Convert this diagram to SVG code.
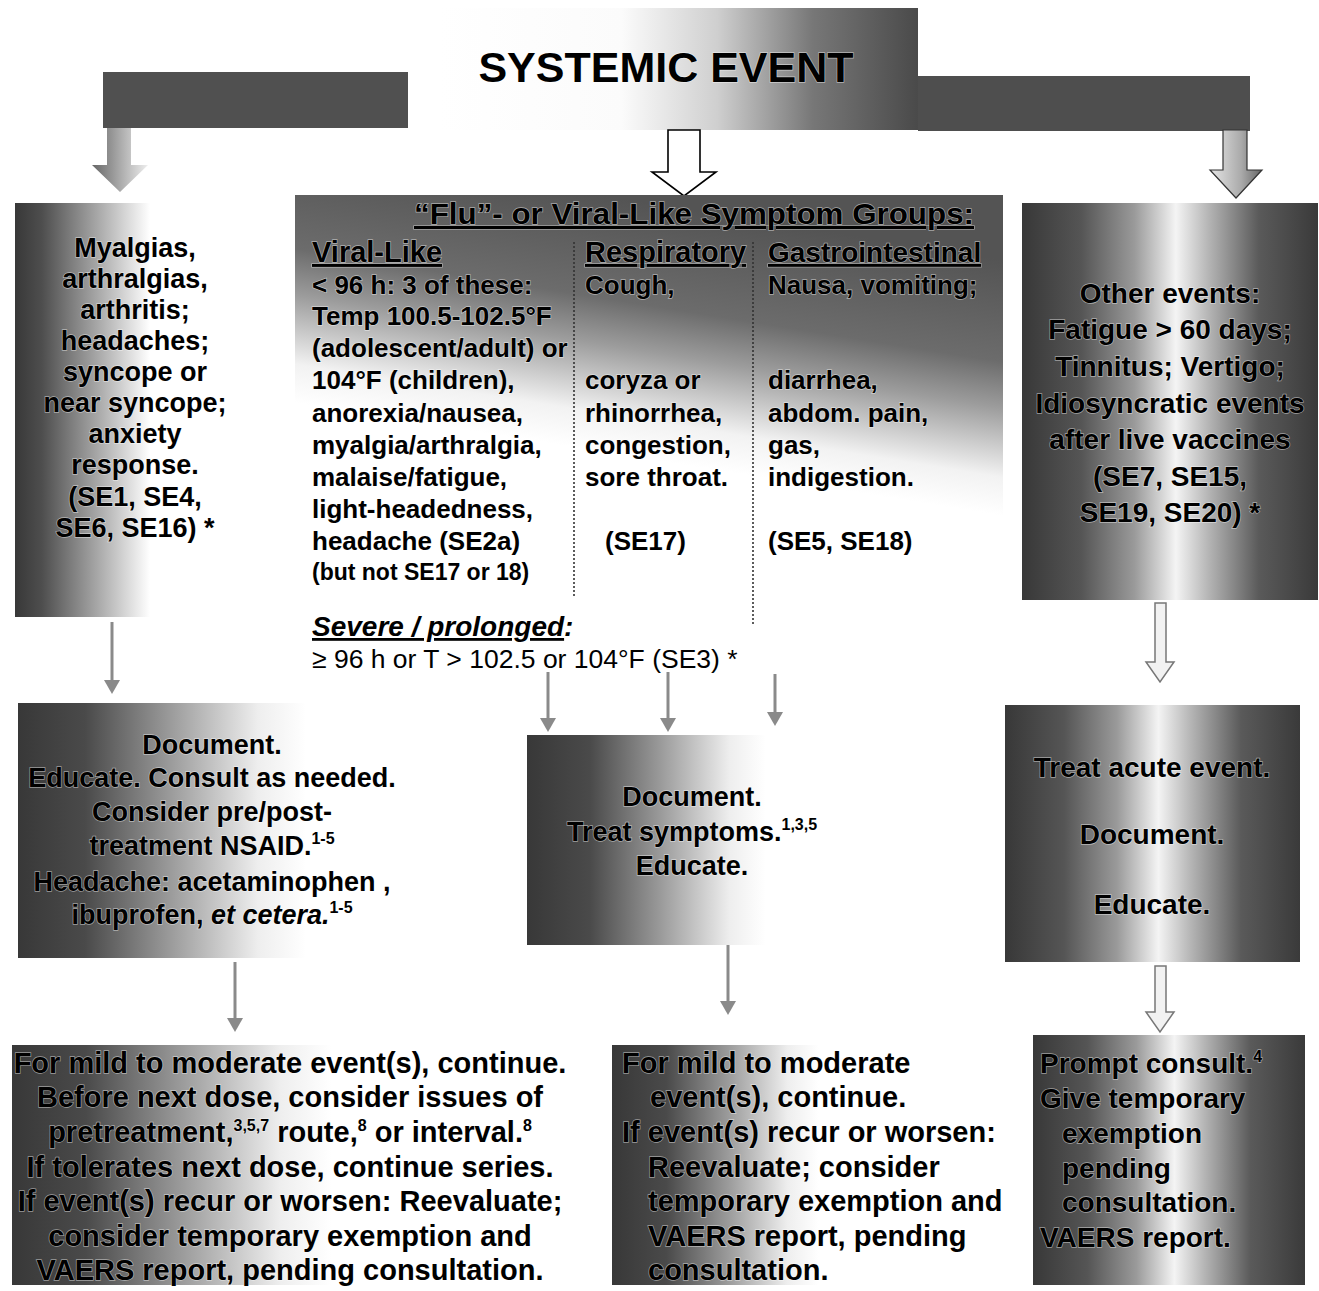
<svg xmlns="http://www.w3.org/2000/svg" width="1319" height="1291" viewBox="0 0 1319 1291">
<defs>
<style>
text{font-family:"Liberation Sans",Arial,sans-serif;font-weight:bold;fill:#000;stroke:#fff;stroke-width:1.3;stroke-opacity:0.5;paint-order:stroke;}
.t43{font-size:43px;}
.t30{font-size:30px;}
.t29{font-size:29px;}
.t28{font-size:28px;}
.t27{font-size:27px;}
.t26{font-size:26px;}
.t23{font-size:23px;}
.reg{font-weight:normal;}
.mid{text-anchor:middle;}
.u{text-decoration:underline;}
.sup{font-size:16px;}
.dots{stroke:#333;stroke-width:1.6;stroke-dasharray:2 2;fill:none;}
.thin{stroke:#8a8a8a;stroke-width:3;fill:none;}
.thinhead{fill:#8a8a8a;}
.dbl{fill:#f2f2f2;stroke:#777;stroke-width:1.5;}
</style>
<linearGradient id="gTitle" x1="0" y1="0" x2="1" y2="0">
<stop offset="0" stop-color="#fff"/><stop offset="0.38" stop-color="#fbfbfb"/><stop offset="0.58" stop-color="#cfcfcf"/><stop offset="0.78" stop-color="#777"/><stop offset="1" stop-color="#4a4a4a"/>
</linearGradient>
<linearGradient id="gL1" x1="0" y1="0" x2="1" y2="0">
<stop offset="0" stop-color="#383838"/><stop offset="0.1" stop-color="#4e4e4e"/><stop offset="0.3" stop-color="#a5a5a5"/><stop offset="0.5" stop-color="#fff"/><stop offset="1" stop-color="#fff"/>
</linearGradient>
<linearGradient id="gL2" x1="0" y1="0" x2="1" y2="0">
<stop offset="0" stop-color="#383838"/><stop offset="0.14" stop-color="#4a4a4a"/><stop offset="0.32" stop-color="#9c9c9c"/><stop offset="0.5" stop-color="#eee"/><stop offset="0.6" stop-color="#fff"/><stop offset="1" stop-color="#fff"/>
</linearGradient>
<linearGradient id="gL3" x1="0" y1="0" x2="1" y2="0">
<stop offset="0" stop-color="#383838"/><stop offset="0.13" stop-color="#4a4a4a"/><stop offset="0.3" stop-color="#9c9c9c"/><stop offset="0.47" stop-color="#eee"/><stop offset="0.56" stop-color="#fff"/><stop offset="1" stop-color="#fff"/>
</linearGradient>
<linearGradient id="gM2" x1="0" y1="0" x2="1" y2="0">
<stop offset="0" stop-color="#383838"/><stop offset="0.14" stop-color="#4a4a4a"/><stop offset="0.3" stop-color="#9c9c9c"/><stop offset="0.45" stop-color="#eee"/><stop offset="0.53" stop-color="#fff"/><stop offset="1" stop-color="#fff"/>
</linearGradient>
<linearGradient id="gR" x1="0" y1="0" x2="1" y2="0">
<stop offset="0" stop-color="#383838"/><stop offset="0.2" stop-color="#555"/><stop offset="0.38" stop-color="#9a9a9a"/><stop offset="0.52" stop-color="#f4f4f4"/><stop offset="0.63" stop-color="#b5b5b5"/><stop offset="0.8" stop-color="#5a5a5a"/><stop offset="1" stop-color="#3a3a3a"/>
</linearGradient>
<linearGradient id="gMid" gradientUnits="userSpaceOnUse" x1="560" y1="445" x2="600" y2="195">
<stop offset="0" stop-color="#fff"/><stop offset="0.15" stop-color="#f2f2f2"/><stop offset="0.42" stop-color="#9c9c9c"/><stop offset="0.6" stop-color="#6c6c6c"/><stop offset="1" stop-color="#545454"/>
</linearGradient>
<linearGradient id="gArrL" x1="0" y1="0" x2="1" y2="0">
<stop offset="0" stop-color="#666"/><stop offset="0.5" stop-color="#aaa"/><stop offset="1" stop-color="#eee"/>
</linearGradient>
<linearGradient id="gArrR" x1="0" y1="0" x2="1" y2="0">
<stop offset="0" stop-color="#e6e6e6"/><stop offset="0.6" stop-color="#aaa"/><stop offset="1" stop-color="#666"/>
</linearGradient>
</defs>
<rect width="1319" height="1291" fill="#fff"/>

<!-- Title and bars -->
<g id="title">
<rect x="440" y="8" width="478" height="122" fill="url(#gTitle)"/>
<rect x="918" y="76" width="332" height="55" fill="#4e4e4e"/>
<rect x="103" y="72" width="305" height="56" fill="#505050"/>
<text class="t43 mid" x="666" y="82">SYSTEMIC EVENT</text>
</g>

<!-- Connectors -->
<g id="connectors">
<path d="M107,128 H131 V165 H148 L120,192 L92,165 H107 Z" fill="url(#gArrL)"/>
<path d="M668,130 H700 V172 H716 L684,196 L652,172 H668 Z" fill="#fff" stroke="#000" stroke-width="1.6"/>
<path d="M1223,130 H1247 V170 H1262 L1236,198 L1210,170 H1223 Z" fill="url(#gArrR)" stroke="#333" stroke-width="1.2"/>

<line class="thin" x1="112" y1="622" x2="112" y2="682"/>
<path class="thinhead" d="M104,680 L120,680 L112,694 Z"/>
<line class="thin" x1="548" y1="672" x2="548" y2="720"/>
<path class="thinhead" d="M540,718 L556,718 L548,732 Z"/>
<line class="thin" x1="668" y1="672" x2="668" y2="720"/>
<path class="thinhead" d="M660,718 L676,718 L668,732 Z"/>
<line class="thin" x1="775" y1="674" x2="775" y2="714"/>
<path class="thinhead" d="M767,712 L783,712 L775,726 Z"/>
<path class="dbl" d="M1155,603 H1166 V662 H1174 L1160,682 L1146,662 H1155 Z"/>

<line class="thin" x1="235" y1="962" x2="235" y2="1020"/>
<path class="thinhead" d="M227,1018 L243,1018 L235,1032 Z"/>
<line class="thin" x1="728" y1="940" x2="728" y2="1003"/>
<path class="thinhead" d="M720,1001 L736,1001 L728,1015 Z"/>
<path class="dbl" d="M1155,966 H1166 V1012 H1174 L1160,1032 L1146,1012 H1155 Z"/>
</g>

<!-- Row 1 -->
<g id="n-left1">
<rect x="15" y="203" width="270" height="414" fill="url(#gL1)"/>
<text class="t27 mid" x="135"><tspan x="135" y="257">Myalgias,</tspan><tspan x="135" y="288">arthralgias,</tspan><tspan x="135" y="319">arthritis;</tspan><tspan x="135" y="350">headaches;</tspan><tspan x="135" y="381">syncope or</tspan><tspan x="135" y="412">near syncope;</tspan><tspan x="135" y="443">anxiety</tspan><tspan x="135" y="474">response.</tspan><tspan x="135" y="506">(SE1, SE4,</tspan><tspan x="135" y="537">SE6, SE16) *</tspan></text>
</g>

<g id="n-flu">
<rect x="295" y="195" width="708" height="410" fill="url(#gMid)"/>
<text class="t30 mid u" x="694" y="224" textLength="560" lengthAdjust="spacingAndGlyphs">“Flu”- or Viral-Like Symptom Groups:</text>
<text class="t29 u" x="312" y="262">Viral-Like</text>
<text class="t29 u" x="585" y="262">Respiratory</text>
<text class="t28 u" x="768" y="262">Gastrointestinal</text>
<line class="dots" x1="574" y1="242" x2="574" y2="598"/>
<line class="dots" x1="753" y1="242" x2="753" y2="624"/>
<text class="t26"><tspan x="312" y="294">&lt; 96 h: 3 of these:</tspan><tspan x="312" y="325">Temp 100.5-102.5°F</tspan><tspan x="312" y="357">(adolescent/adult) or</tspan><tspan x="312" y="389">104°F (children),</tspan><tspan x="312" y="422">anorexia/nausea,</tspan><tspan x="312" y="454">myalgia/arthralgia,</tspan><tspan x="312" y="486">malaise/fatigue,</tspan><tspan x="312" y="518">light-headedness,</tspan><tspan x="312" y="550">headache (SE2a)</tspan></text>
<text class="t23" x="312" y="580">(but not SE17 or 18)</text>
<text class="t26"><tspan x="585" y="294">Cough,</tspan><tspan x="585" y="389">coryza or</tspan><tspan x="585" y="422">rhinorrhea,</tspan><tspan x="585" y="454">congestion,</tspan><tspan x="585" y="486">sore throat.</tspan><tspan x="605" y="550">(SE17)</tspan></text>
<text class="t26"><tspan x="768" y="294">Nausa, vomiting;</tspan><tspan x="768" y="389">diarrhea,</tspan><tspan x="768" y="422">abdom. pain,</tspan><tspan x="768" y="454">gas,</tspan><tspan x="768" y="486">indigestion.</tspan><tspan x="768" y="550">(SE5, SE18)</tspan></text>
<text class="t28" x="312" y="636" font-style="italic"><tspan class="u">Severe / prolonged</tspan>:</text>
<text class="reg" font-size="26.5" x="312" y="668">≥ 96 h or T &gt; 102.5 or 104°F (SE3) *</text>
</g>

<g id="n-other">
<rect x="1022" y="203" width="296" height="397" fill="url(#gR)"/>
<text class="t28 mid"><tspan x="1170" y="303">Other events:</tspan><tspan x="1170" y="339">Fatigue &gt; 60 days;</tspan><tspan x="1170" y="376">Tinnitus; Vertigo;</tspan><tspan x="1170" y="413">Idiosyncratic events</tspan><tspan x="1170" y="449">after live vaccines</tspan><tspan x="1170" y="486">(SE7, SE15,</tspan><tspan x="1170" y="522">SE19, SE20) *</tspan></text>
</g>

<!-- Row 2 -->
<g id="n-doc-left">
<rect x="18" y="703" width="480" height="255" fill="url(#gL2)"/>
<text class="t27 mid"><tspan x="212" y="754">Document.</tspan><tspan x="212" y="787">Educate. Consult as needed.</tspan><tspan x="212" y="821">Consider pre/post-</tspan><tspan x="212" y="855">treatment NSAID.<tspan class="sup" dy="-11">1-5</tspan></tspan><tspan x="212" y="891">Headache: acetaminophen ,</tspan><tspan x="212" y="924">ibuprofen, <tspan font-style="italic">et cetera.</tspan><tspan class="sup" dy="-11">1-5</tspan></tspan></text>
</g>

<g id="n-doc-mid">
<rect x="527" y="735" width="450" height="210" fill="url(#gM2)"/>
<text class="t27 mid"><tspan x="692" y="806">Document.</tspan><tspan x="692" y="841">Treat symptoms.<tspan class="sup" dy="-11">1,3,5</tspan></tspan><tspan x="692" y="875">Educate.</tspan></text>
</g>

<g id="n-treat">
<rect x="1005" y="705" width="295" height="257" fill="url(#gR)"/>
<text class="t28 mid"><tspan x="1152" y="777">Treat acute event.</tspan><tspan x="1152" y="844">Document.</tspan><tspan x="1152" y="914">Educate.</tspan></text>
</g>

<!-- Row 3 -->
<g id="n-cont-left">
<rect x="12" y="1045" width="570" height="240" fill="url(#gL3)"/>
<text class="t29 mid"><tspan x="290" y="1073">For mild to moderate event(s), continue.</tspan><tspan x="290" y="1107">Before next dose, consider issues of</tspan><tspan x="290" y="1142">pretreatment,<tspan class="sup" dy="-11">3,5,7</tspan><tspan dy="11"> route,</tspan><tspan class="sup" dy="-11">8</tspan><tspan dy="11"> or interval.</tspan><tspan class="sup" dy="-11">8</tspan></tspan><tspan x="290" y="1177">If tolerates next dose, continue series.</tspan><tspan x="290" y="1211">If event(s) recur or worsen: Reevaluate;</tspan><tspan x="290" y="1246">consider temporary exemption and</tspan><tspan x="290" y="1280">VAERS report, pending consultation.</tspan></text>
</g>

<g id="n-cont-mid">
<rect x="612" y="1045" width="390" height="240" fill="url(#gM2)"/>
<text class="t29"><tspan x="622" y="1073">For mild to moderate</tspan><tspan x="650" y="1107">event(s), continue.</tspan><tspan x="622" y="1142">If event(s) recur or worsen:</tspan><tspan x="648" y="1177">Reevaluate; consider</tspan><tspan x="648" y="1211">temporary exemption and</tspan><tspan x="648" y="1246">VAERS report, pending</tspan><tspan x="648" y="1280">consultation.</tspan></text>
</g>

<g id="n-consult">
<rect x="1033" y="1035" width="272" height="250" fill="url(#gR)"/>
<text class="t28"><tspan x="1040" y="1073">Prompt consult.<tspan class="sup" dy="-11">4</tspan></tspan><tspan x="1040" y="1108">Give temporary</tspan><tspan x="1062" y="1143">exemption</tspan><tspan x="1062" y="1178">pending</tspan><tspan x="1062" y="1212">consultation.</tspan><tspan x="1040" y="1247">VAERS report.</tspan></text>
</g>
</svg>
